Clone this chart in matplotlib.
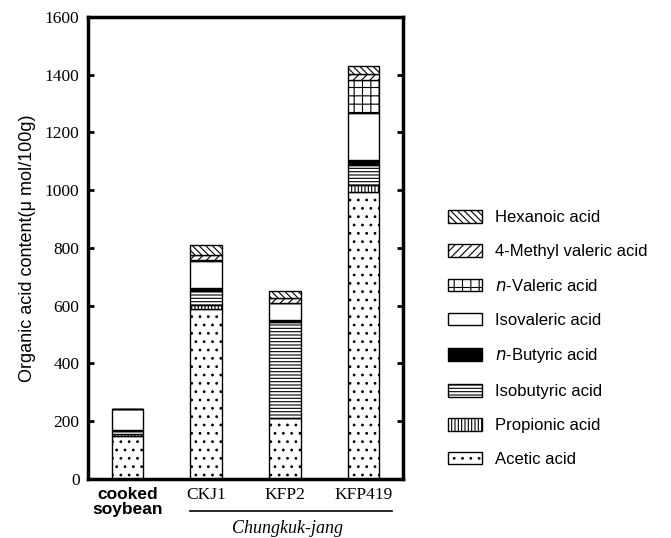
import matplotlib
matplotlib.use("Agg")
import matplotlib.pyplot as plt
from matplotlib.patches import Patch
from matplotlib.lines import Line2D
import numpy as np

plt.rcParams["hatch.linewidth"] = 0.8

samples = ["cooked\nsoybean", "CKJ1", "KFP2", "KFP419"]

# bottom -> top stacking order
acids = ["Acetic acid", "Propionic acid", "Isobutyric acid", "n-Butyric acid",
         "Isovaleric acid", "n-Valeric acid", "4-Methyl valeric acid", "Hexanoic acid"]
legend_labels = ["Acetic acid", "Propionic acid", "Isobutyric acid", r"$\it{n}$-Butyric acid",
                 "Isovaleric acid", r"$\it{n}$-Valeric acid", "4-Methyl valeric acid", "Hexanoic acid"]

acetic = [150, 590, 210, 994]
propionic = [5, 12, 0, 23]
isobutyric = [10, 50, 335, 72]
n_butyric = [6, 8, 5, 15]
isovaleric = [70, 95, 60, 165]
n_valeric = [0, 5, 0, 112]
methyl_valeric = [0, 15, 17, 23]
hexanoic = [0, 35, 23, 27]

series = [acetic, propionic, isobutyric, n_butyric, isovaleric, n_valeric, methyl_valeric, hexanoic]
fills = ["white", "white", "white", "black", "white", "white", "white", "white"]
hatches = ["..", "|||||", "-----", None, None, "++", "////", "\\\\\\\\\\"]

fig = plt.figure(figsize=(6.71, 5.38), dpi=100)
ax = fig.add_axes([0.131, 0.1097, 0.4696, 0.8587])

x = np.arange(len(samples))
bottom = np.zeros(len(samples))
for vals, fc, h in zip(series, fills, hatches):
    vals = np.array(vals, dtype=float)
    ax.bar(x, vals, width=0.4, bottom=bottom, color=fc, edgecolor="black",
           linewidth=1.0, hatch=h)
    bottom += vals

ax.set_xlim(-0.5, 3.5)
ax.set_ylim(0, 1600)
ax.set_yticks(range(0, 1601, 200))
ax.set_yticklabels([str(v) for v in range(0, 1601, 200)], family="Liberation Serif", fontsize=12.5)
ax.tick_params(axis="y", direction="in", length=4, width=2, left=True, right=True, pad=6)
ax.tick_params(axis="x", length=0, pad=6)
for s in ax.spines.values():
    s.set_linewidth(2.5)

ax.set_xticks(x)
ax.set_xticklabels(samples)
tl = ax.get_xticklabels()
tl[0].set_family("Liberation Sans")
tl[0].set_fontweight("bold")
tl[0].set_fontsize(12.5)
tl[0].set_linespacing(0.95)
for t in tl[1:]:
    t.set_family("Liberation Serif")
    t.set_fontsize(12.5)

ax.set_ylabel("Organic acid content(\u03bc mol/100g)", family="Liberation Sans", fontsize=13, labelpad=6)

trans = ax.get_xaxis_transform()
ax.add_line(Line2D([0.8, 3.36], [-0.069, -0.069], transform=trans, color="black",
                   linewidth=1.2, clip_on=False))
ax.text(2.03, -0.108, "Chungkuk-jang", transform=trans, ha="center", va="center",
        family="Liberation Serif", style="italic", fontsize=13)

handles = [Patch(facecolor=fc, edgecolor="black", hatch=h, linewidth=1.0)
           for fc, h in zip(fills, hatches)]
fig.legend(handles[::-1], legend_labels[::-1], loc="center left",
           bbox_to_anchor=(440 / 671, 1 - 338.5 / 538), frameon=False,
           prop={"family": "Liberation Sans", "size": 12}, borderpad=0,
           handlelength=2.0, handleheight=0.8, labelspacing=1.12, handletextpad=0.8)

fig.savefig("out.png", dpi=100)
